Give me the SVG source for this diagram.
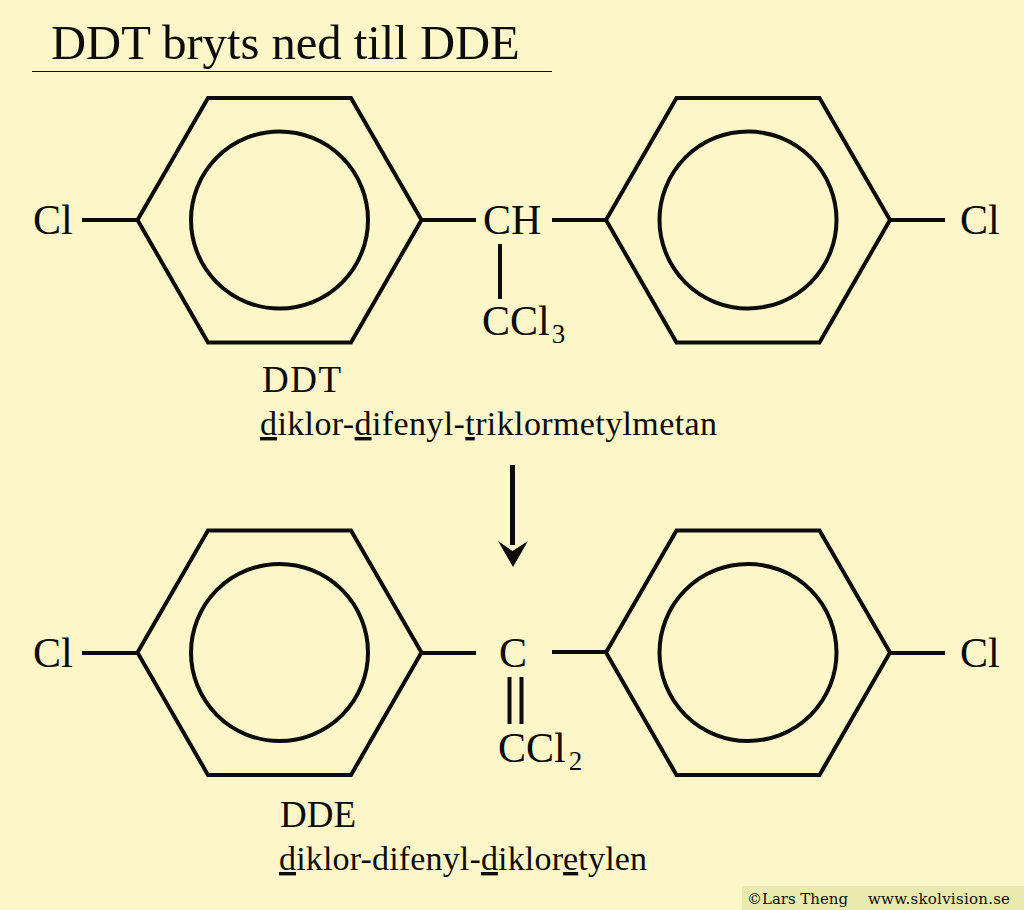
<svg xmlns="http://www.w3.org/2000/svg" width="1024" height="910" viewBox="0 0 1024 910">
<style>
text{font-family:"Liberation Serif",serif;fill:#0c0c0c}
.a{font-size:42px}.s{font-size:27px}
.l{font-size:34px}.c{font-size:37px}
.u{text-decoration:underline}
.ln{fill:none;stroke:#0c0c0c;stroke-width:4}
.ring{fill:none;stroke:#0c0c0c;stroke-width:4}
.cr{font-size:15px;font-family:"DejaVu Serif",serif}
</style>
<defs>
<g id="ring"><polygon class="ring" points="-142,0 -71.500,-122 71.500,-122 142,0 71.500,122.500 -71.500,122.500"/><circle class="ring" r="88.500"/></g>
</defs>
<rect width="1024" height="910" fill="#fdf6c9"/>
<rect x="742" y="886" width="282" height="24" fill="#e9eab0"/>
<text id="title" x="51" y="59" font-size="48.600">DDT bryts ned till DDE</text>
<line x1="32" y1="71.500" x2="552" y2="71.500" stroke="#0c0c0c" stroke-width="1"/>
<g id="ddt-ring-left"><use href="#ring" x="279.500" y="220"/></g>
<g id="ddt-ring-right"><use href="#ring" x="748" y="220"/></g>
<g id="dde-ring-left"><use href="#ring" x="279.500" y="652.500"/></g>
<g id="dde-ring-right"><use href="#ring" x="748" y="652.500"/></g>
<g id="connectors">
<path class="ln" d="M82 220H137M422 220H476M552 220H606M890 220H945M500 244V299"/>
<path class="ln" d="M82 653H137M422 653H476M552 652H606M890 653H945M509.500 677V724M521.500 677V724"/>
<path class="ln" style="stroke-width:5" d="M512.500 465V545"/>
<polygon points="498,541 512.500,551 528,541 513,567" fill="#0c0c0c"/>
</g>
<g id="ddt-cl-left"><text class="a" x="33" y="234">Cl</text></g>
<g id="ddt-ch"><text class="a" x="483" y="234">CH</text></g>
<g id="ddt-ccl3"><text class="a" x="482" y="335">CCl<tspan class="s" dx="2" dy="8">3</tspan></text></g>
<g id="ddt-cl-right"><text class="a" x="960" y="234">Cl</text></g>
<g id="dde-cl-left"><text class="a" x="33" y="667">Cl</text></g>
<g id="dde-c"><text class="a" x="499" y="667">C</text></g>
<g id="dde-ccl2"><text class="a" x="498" y="762">CCl<tspan class="s" dx="3" dy="8">2</tspan></text></g>
<g id="dde-cl-right"><text class="a" x="960" y="667">Cl</text></g>
<g id="ddt-label"><text class="c" x="262" y="392" textLength="79">DDT</text>
<text class="l" x="260" y="435" textLength="457"><tspan class="u">d</tspan>iklor-<tspan class="u">d</tspan>ifenyl-<tspan class="u">t</tspan>riklormetylmetan</text></g>
<g id="dde-label"><text class="c" x="280" y="827" textLength="76">DDE</text>
<text class="l" x="279" y="870" textLength="368"><tspan class="u">d</tspan>iklor-difenyl-<tspan class="u">d</tspan>iklor<tspan class="u">e</tspan>tylen</text></g>
<g id="credit"><text class="cr" x="747" y="904" textLength="101">©Lars Theng</text><text class="cr" x="868" y="904" textLength="142">www.skolvision.se</text></g>
</svg>
